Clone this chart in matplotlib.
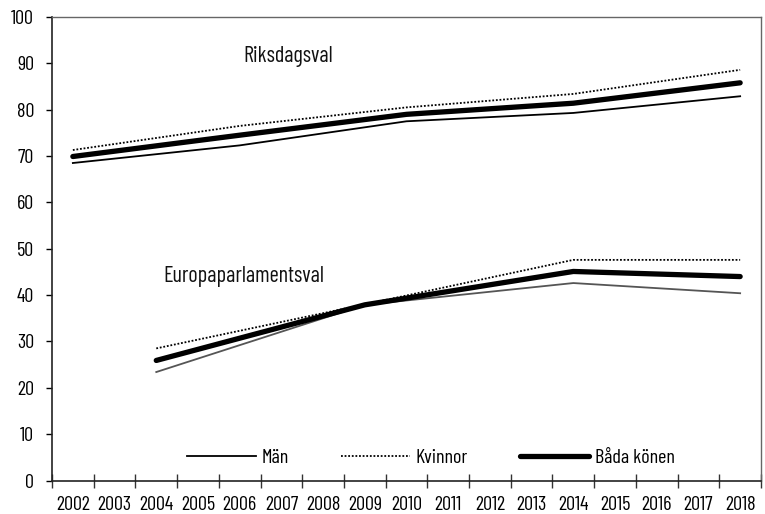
import matplotlib
matplotlib.use("Agg")
import matplotlib.pyplot as plt

plt.rcParams['font.family'] = ['Barlow Condensed', 'Roboto Condensed', 'DejaVu Sans']

years = list(range(2002, 2019))
riks_years = [2002, 2006, 2010, 2014, 2018]
riks_man = [68.5, 72.3, 77.5, 79.3, 82.9]
riks_kvinnor = [71.3, 76.5, 80.5, 83.4, 88.6]
riks_bada = [69.9, 74.5, 79.0, 81.4, 85.8]

eu_years = [2004, 2009, 2014, 2018]
eu_man = [23.4, 37.9, 42.6, 40.4]
eu_kvinnor = [28.5, 38.0, 47.6, 47.6]
eu_bada = [25.9, 37.9, 45.1, 44.0]

label_riks = "Riksdagsval"
label_eu = "Europaparlamentsval"
series_names = ["Män", "Kvinnor", "Båda könen"]

fig = plt.figure(figsize=(7.65, 5.14), dpi=100)
ax = fig.add_axes([52/765, 1-480.5/514, (761-52)/765, (480.5-17)/514])

dot = (0, (1, 1))
l1, = ax.plot(riks_years, riks_man, color='black', lw=1.3, label=series_names[0])
l2, = ax.plot(riks_years, riks_kvinnor, color='black', lw=1.3, linestyle=dot, label=series_names[1])
l3, = ax.plot(riks_years, riks_bada, color='black', lw=3.8, solid_capstyle='round', label=series_names[2])
ax.plot(eu_years, eu_man, color='#555555', lw=1.3)
ax.plot(eu_years, eu_kvinnor, color='black', lw=1.3, linestyle=dot)
ax.plot(eu_years, eu_bada, color='black', lw=3.8, solid_capstyle='round')

ax.text(2006.1, 90.2, label_riks, fontsize=16, ha='left', va='baseline', color='#111111')
ax.text(2004.17, 42.8, label_eu, fontsize=16, ha='left', va='baseline', color='#111111')

ax.set_xlim(2001.5, 2018.5)
ax.set_ylim(0, 100)
ax.set_yticks(range(0, 101, 10))
ax.set_xticks([y - 0.5 for y in years] + [2018.5])
ax.set_xticklabels([])
ax.set_xticks(years, minor=True)
ax.set_xticklabels([str(y) for y in years], minor=True)
ax.tick_params(axis='x', which='major', direction='inout', length=10, width=1, color='#333333')
ax.tick_params(axis='x', which='minor', length=0, labelsize=14.5, pad=11)
ax.tick_params(axis='y', direction='out', length=4, width=1, labelsize=14.5, pad=9)

for s in ['top', 'right']:
    ax.spines[s].set_color('#666666')
    ax.spines[s].set_linewidth(1)
for s in ['left', 'bottom']:
    ax.spines[s].set_color('#222222')
    ax.spines[s].set_linewidth(1.2)

leg = ax.legend(handles=[l1, l2, l3], ncol=3, frameon=False, loc='center',
                bbox_to_anchor=(431/765, 1-458/514), bbox_transform=fig.transFigure,
                handlelength=3.4, columnspacing=2.6, handletextpad=0.3, fontsize=14.5)

fig.savefig("out.png", dpi=100)
